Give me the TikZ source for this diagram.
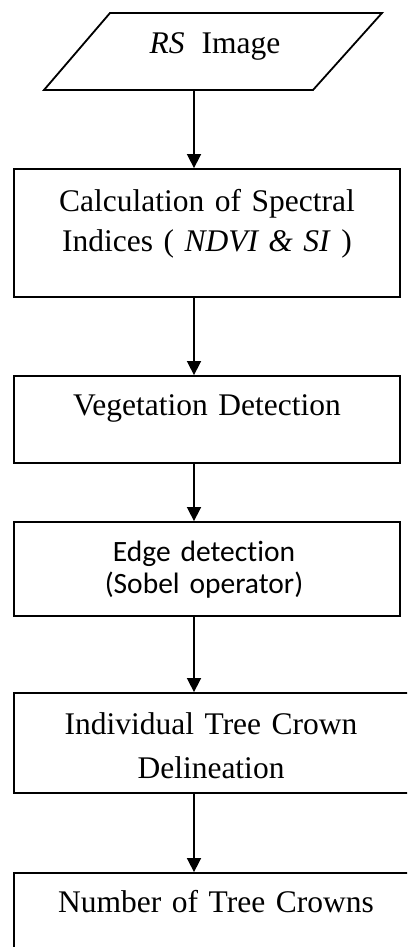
\documentclass[tikz,border=0pt]{standalone}
\usepackage{fontspec}
\setmainfont{Liberation Serif}
\newfontfamily\calibri[Ligatures={NoCommon,NoRare}]{Carlito}
\usetikzlibrary{arrows.meta}
\begin{document}
\begin{tikzpicture}[x=1pt,y=-1pt,
  box/.style={draw, line width=1.8pt, rectangle, inner sep=0pt},
  arr/.style={line width=1.6pt, -{Triangle[length=14pt,width=14pt]}},
  txt/.style={anchor=base, inner sep=0pt, text width=400pt, align=center,
    font=\fontsize{31.5}{40}\selectfont},
  ctxt/.style={anchor=base, inner sep=0pt, text width=400pt, align=center,
    font=\calibri\fontsize{29.5}{32}\selectfont}]
\useasboundingbox (0,0) rectangle (407,947);
\clip (0,0) rectangle (407,947);
% input parallelogram
\draw[line width=1.8pt, line join=miter] (110,13) -- (382,13) -- (313,90) -- (44,90) -- cycle;
\node[txt] (rs) at (215,54) {\textit{RS}\hspace{17pt}Image};
\coordinate (rsb) at (194,90);
% boxes
\node[box, minimum width=386pt, minimum height=128pt] (b2) at (207,233) {};
\node[txt] (t2) at (207,211) {Calculation of Spectral\\Indices ( \textit{NDVI \& SI} )};
\node[box, minimum width=386pt, minimum height=87pt] (b3) at (207,419.5) {};
\node[txt] (t3) at (207,415) {Vegetation Detection};
\node[box, minimum width=386pt, minimum height=94pt] (b4) at (207,569) {};
\node[ctxt] (t4) at (204,561) {Edge detection\\(Sobel operator)};
\node[box, minimum width=400pt, minimum height=100pt] (b5) at (214,743) {};
\node[txt, font=\fontsize{31.5}{44}\selectfont] (t5) at (211,734) {Individual Tree Crown\\Delineation};
\node[box, minimum width=406pt, minimum height=120pt] (b6) at (217,933) {};
\node[txt] (t6) at (216,912) {Number of Tree Crowns};
% connectors
\draw[arr] (rsb) -- (rsb |- b2.north);
\draw[arr] (b2.south -| rsb) -- (b3.north -| rsb);
\draw[arr] (b3.south -| rsb) -- (b4.north -| rsb);
\draw[arr] (b4.south -| rsb) -- (b5.north -| rsb);
\draw[arr] (b5.south -| rsb) -- (b6.north -| rsb);
\end{tikzpicture}
\end{document}
